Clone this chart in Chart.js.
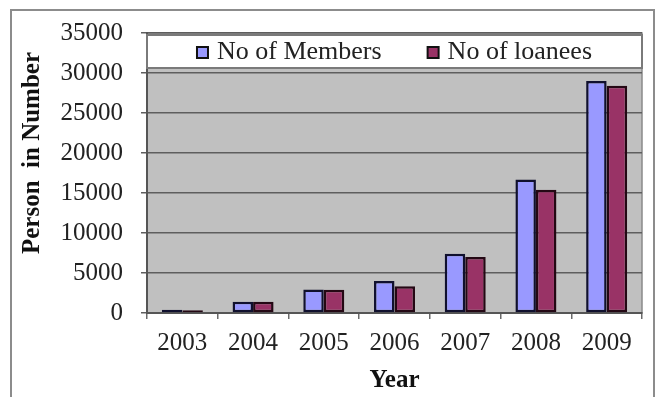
<!DOCTYPE html>
<html>
<head>
<meta charset="utf-8">
<script src="https://cdn.jsdelivr.net/npm/chart.js@4/dist/chart.umd.min.js"></script>
<style>
  html, body { margin: 0; padding: 0; background: #fff; }
  #wrap { position: relative; width: 657px; height: 397px; overflow: hidden; }
  #frame { position: absolute; left: 10px; top: 9px; width: 641px; height: 400px; border: 2px solid #8c8c8c; }
  #myChart { position: absolute; left: 0; top: 0; }
</style>
</head>
<body>
<div id="wrap">
  <div id="frame"></div>
  <canvas id="myChart" width="657" height="397"></canvas>
</div>
<script>
const years = ['2003', '2004', '2005', '2006', '2007', '2008', '2009'];
const members = [400, 1400, 2950, 4000, 7400, 16700, 29000];
const loanees = [350, 1400, 2900, 3350, 7000, 15400, 28400];
const yTicks = [0, 5000, 10000, 15000, 20000, 25000, 30000, 35000];

const serif = '"Liberation Serif", "Times New Roman", serif';

// grey plot area behind the grid
const plotBg = {
    id: 'plotBg',
    beforeDraw(chart) {
        const {ctx, chartArea: a} = chart;
        ctx.save();
        ctx.fillStyle = '#c0c0c0';
        ctx.fillRect(a.left, a.top, a.right - a.left, a.bottom - a.top);
        ctx.strokeStyle = '#8a8a8a';
        ctx.lineWidth = 1.5;
        ctx.strokeRect(a.left, a.top, a.right - a.left, a.bottom - a.top);
        ctx.restore();
    }
};

// white legend box sitting in the top band of the plot, plus the rotated y title
const legendBox = {
    id: 'legendBox',
    afterDatasetsDraw(chart) {
        const {ctx, chartArea: a, scales: {y}} = chart;
        const top = a.top + 2;
        const bottom = y.getPixelForValue(30000) - 5;
        ctx.save();
        ctx.fillStyle = '#ffffff';
        ctx.fillRect(a.left, top, a.right - a.left, bottom - top);
        ctx.strokeStyle = '#7a7a7a';
        ctx.lineWidth = 2;
        ctx.strokeRect(a.left, top, a.right - a.left, bottom - top);

        ctx.font = '26px ' + serif;
        const box = 11, boxGap = 9, itemGap = 46;
        const items = chart.data.datasets.map(ds => ({
            label: ds.label,
            color: ds.backgroundColor,
            w: box + boxGap + ctx.measureText(ds.label).width,
        }));
        const total = items.reduce((s, it) => s + it.w, 0) + itemGap * (items.length - 1);
        let x = (a.left + a.right) / 2 - total / 2;
        const cy = (top + bottom) / 2 + 1;
        items.forEach(it => {
            ctx.fillStyle = it.color;
            ctx.fillRect(x, cy - box / 2, box, box);
            ctx.strokeStyle = '#111';
            ctx.lineWidth = 2;
            ctx.strokeRect(x, cy - box / 2, box, box);
            ctx.fillStyle = '#222';
            ctx.textBaseline = 'middle';
            ctx.textAlign = 'left';
            ctx.fillText(it.label, x + box + boxGap, cy);
            x += it.w + itemGap;
        });

        ctx.translate(33, (a.top + a.bottom) / 2 - 20);
        ctx.rotate(-Math.PI / 2);
        ctx.font = 'bold 25px ' + serif;
        ctx.fillStyle = '#111';
        ctx.textAlign = 'center';
        ctx.textBaseline = 'middle';
        ctx.fillText('Person  in Number', 0, 0);
        ctx.restore();
    }
};

const ctx = document.getElementById('myChart');
const myChart = new Chart(ctx, {
    type: 'bar',
    data: {
        labels: years,
        datasets: [{
            label: 'No of Members',
            data: members,
            backgroundColor: '#9999ff',
            borderColor: '#10102e',
            borderWidth: 2.5,
            borderSkipped: false,
            categoryPercentage: 0.58,
            barPercentage: 1.0,
        },
        {
            label: 'No of loanees',
            data: loanees,
            backgroundColor: '#993366',
            borderColor: '#240814',
            borderWidth: 2.5,
            borderSkipped: false,
            categoryPercentage: 0.58,
            barPercentage: 1.0,
        }]
    },
    plugins: [plotBg, legendBox],
    options: {
        responsive: false,
        animation: false,
        layout: {
            padding: {left: 0, right: 15, top: 28, bottom: 0},
        },
        plugins: {
            legend: {display: false},
            tooltip: {enabled: false},
        },
        scales: {
            x: {
                afterFit(scale) { scale.height = 84; },
                grid: {
                    drawOnChartArea: false,
                    drawTicks: true,
                    tickLength: 6,
                    color: '#6a6a6a',
                    lineWidth: 1.5,
                },
                border: {color: '#555', width: 2},
                ticks: {
                    color: '#222',
                    padding: 9,
                    font: {family: serif, size: 25},
                },
                title: {
                    display: true,
                    text: 'Year',
                    color: '#111',
                    padding: {top: 0, bottom: 1},
                    font: {family: serif, size: 25, weight: 'bold'},
                },
            },
            y: {
                min: 0,
                max: 35000,
                afterFit(scale) { scale.width = 147; },
                afterBuildTicks(scale) { scale.ticks = yTicks.map(v => ({value: v})); },
                grid: {
                    color: '#5e5e5e',
                    lineWidth: 1.5,
                    tickLength: 6,
                },
                border: {color: '#555', width: 2},
                ticks: {
                    color: '#222',
                    padding: 18,
                    font: {family: serif, size: 25},
                    callback: (v) => String(v),
                },
            }
        }
    }
});
</script>
</body>
</html>
